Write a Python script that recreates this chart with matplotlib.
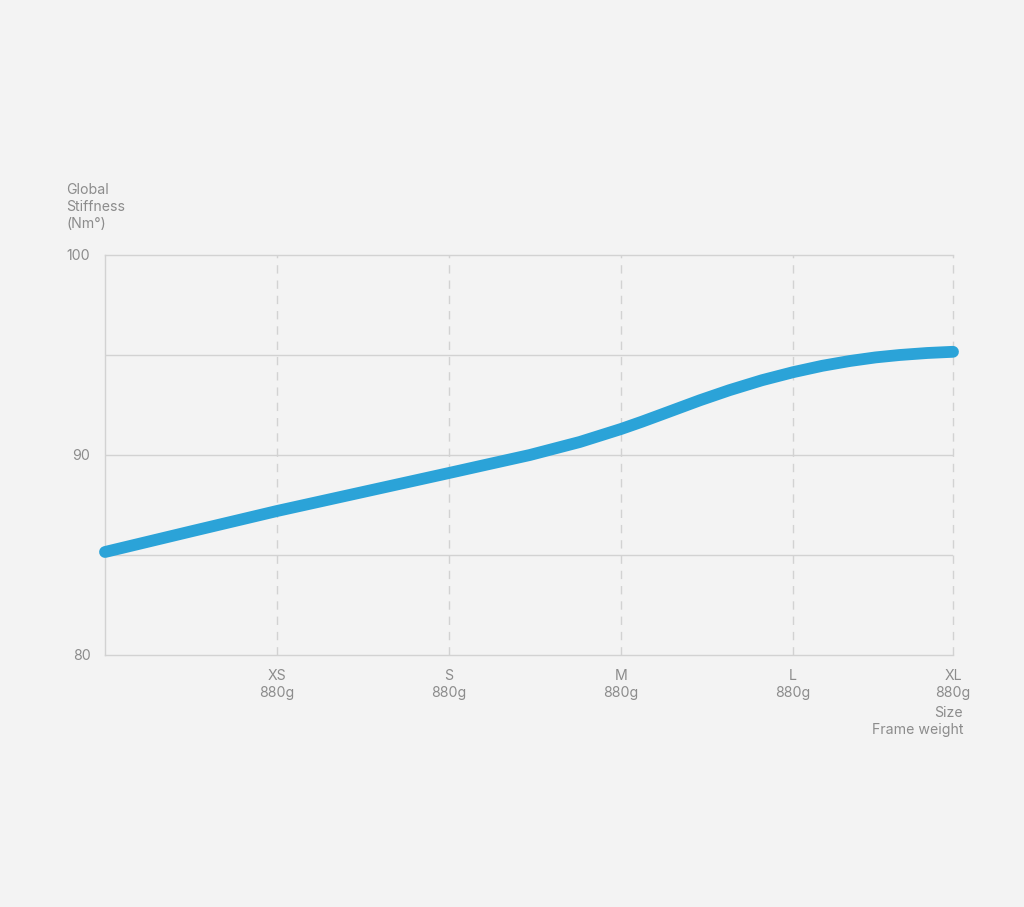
import matplotlib
matplotlib.use("Agg")
import matplotlib.pyplot as plt

# values
x_pos = [0, 0.5, 1, 1.5, 2, 2.25, 2.47, 2.76, 3.0, 3.12, 3.24, 3.46, 3.63, 3.82, 4.0,
         4.17, 4.33, 4.48, 4.62, 4.78, 4.93]
stiffness = [85.15, 86.18, 87.2, 88.15, 89.1, 89.58, 90.0, 90.65, 91.3, 91.66, 92.04,
             92.74, 93.24, 93.74, 94.14, 94.46, 94.7, 94.88, 95.0, 95.1, 95.16]

sizes = ["XS", "S", "M", "L", "XL"]
weights = ["880g", "880g", "880g", "880g", "880g"]
size_pos = [1, 2, 3, 4, 4.93]

bg = "#f3f3f3"
txt = "#8c8c8c"
grid = "#d2d2d2"
blue = "#2ba3d8"

plt.rcParams["font.family"] = ["Inter", "DejaVu Sans"]
fs = 10.2
ls = 1.27

fig = plt.figure(figsize=(10.24, 9.07), dpi=100, facecolor=bg)
ax = fig.add_axes([105 / 1024, 1 - 655 / 907, 848 / 1024, 400 / 907])
ax.set_facecolor(bg)

ax.set_xlim(0, 4.93)
ax.set_ylim(80, 100)

for v in [85, 90, 95]:
    ax.axhline(v, color=grid, lw=1, zorder=1)
for p in size_pos:
    ax.axvline(p, color=grid, lw=1, ls=(0, (6, 5)), zorder=1, clip_on=False)

ax.plot(x_pos, stiffness, color=blue, lw=8.5, solid_capstyle="round",
        solid_joinstyle="round", zorder=3, clip_on=False)

for s in ["top", "left", "bottom"]:
    ax.spines[s].set_color(grid)
    ax.spines[s].set_linewidth(1)
ax.spines["right"].set_visible(False)

ax.set_yticks([80, 90, 100])
ax.set_yticklabels(["80", "90", "100"])
ax.tick_params(axis="y", length=0, pad=10.5, labelcolor=txt, labelsize=fs)
ax.set_xticks(size_pos)
ax.set_xticklabels([f"{s}\n{w}" for s, w in zip(sizes, weights)], linespacing=ls)
ax.tick_params(axis="x", length=0, pad=10, labelcolor=txt, labelsize=fs)

fig.text(66 / 1024, 1 - 183 / 907, "Global\nStiffness\n(Nm°)", color=txt,
         fontsize=fs, ha="left", va="top", linespacing=ls)
fig.text(963 / 1024, 1 - 706 / 907, "Size\nFrame weight", color=txt,
         fontsize=fs, ha="right", va="top", linespacing=ls)

fig.savefig("out.png", dpi=100, facecolor=bg)
